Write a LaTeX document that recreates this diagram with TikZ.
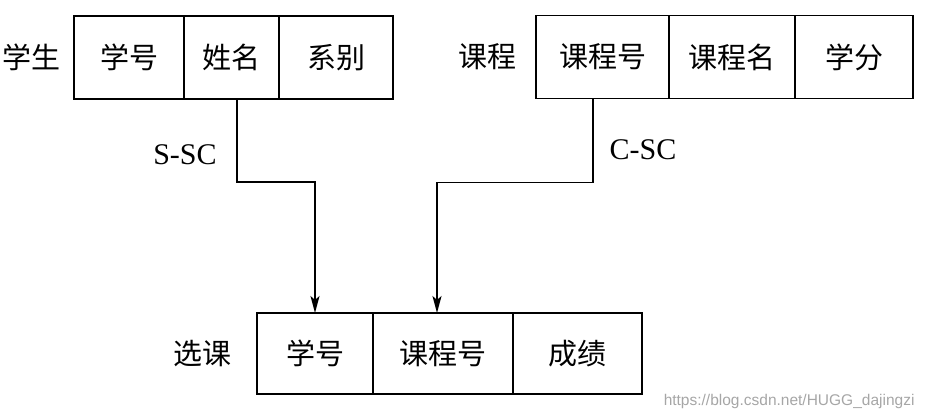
\documentclass[tikz,border=0pt]{standalone}
\usepackage{fontspec}
\setmainfont{Liberation Serif}
\newfontfamily\cjk{Noto Sans CJK SC}
\newfontfamily\urlfont{Liberation Sans}
\usepackage{tikz}
\usetikzlibrary{positioning, arrows.meta}

\begin{document}
\begin{tikzpicture}[
    x=1pt, y=-1pt,
    cell/.style={rectangle, draw=black, line width=1.8pt, outer sep=0pt,
                 inner sep=0pt, minimum height=83pt, align=center,
                 font=\cjk\fontsize{29}{30}\selectfont},
    tname/.style={font=\cjk\fontsize{29}{30}\selectfont},
    key/.style={font=\fontsize{30}{32}\selectfont},
    arr/.style={-{Stealth[length=17pt, width=9pt, inset=4pt]}, line width=1.8pt}
]
    \useasboundingbox (0,0) rectangle (926,418);

    % Student
    \node[cell, minimum width=110pt] (sno) at (129,57.5) {学号};
    \node[cell, minimum width=95pt, right=0pt of sno] (sname) {姓名};
    \node[cell, minimum width=114pt, right=0pt of sname] (sdept) {系别};
    \node[tname, left=10pt of sno] (student) {学生};

    % Course
    \node[cell, minimum width=133pt] (cno) at (602.5,57) {课程号};
    \node[cell, minimum width=126pt, right=0pt of cno] (cname) {课程名};
    \node[cell, minimum width=118pt, right=0pt of cname] (credit) {学分};
    \node[tname, left=16pt of cno] (course) {课程};

    % SC
    \node[cell, minimum width=116pt, minimum height=81pt] (scsno) at (315,353.5) {学号};
    \node[cell, minimum width=140pt, minimum height=81pt, right=0pt of scsno] (sccno) {课程号};
    \node[cell, minimum width=129pt, minimum height=81pt, right=0pt of sccno] (grade) {成绩};
    \node[tname, left=22pt of scsno] (sc) {选课};

    % Foreign keys
    \draw[arr] ([xshift=5.5pt]sname.south) -- ++(0,83) coordinate (sbend) -| (scsno.north);
    \draw[arr] ([xshift=-9.5pt]cno.south) -- ++(0,84) coordinate (cbend) -| ([xshift=-6pt]sccno.north);

    \node[key] (ssc) at (185,155) {S-SC};
    \node[key] (csc) at (643,150) {C-SC};

    \node[font=\urlfont\fontsize{15.5}{17}\selectfont, text=black!35, anchor=east] (mark) at (918,401) {https://blog.csdn.net/HUGG\_dajingzi};
\end{tikzpicture}
\end{document}
